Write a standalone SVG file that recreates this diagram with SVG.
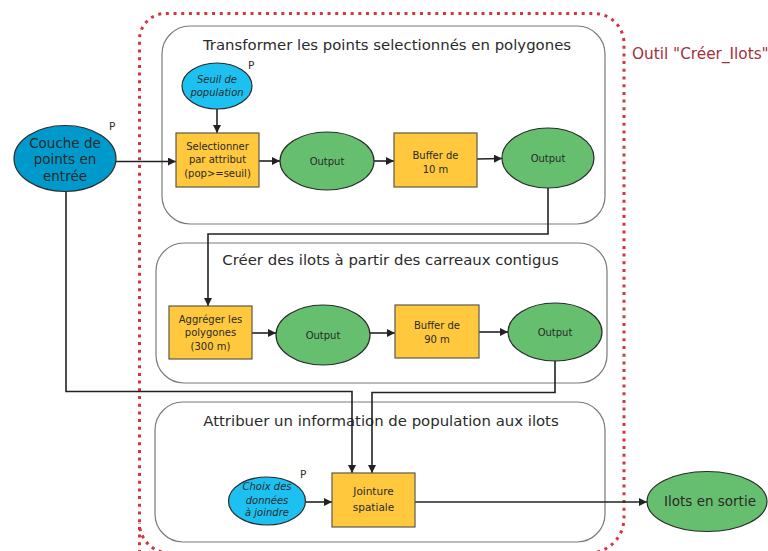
<svg xmlns="http://www.w3.org/2000/svg" width="768" height="551" viewBox="0 0 768 551">
<defs>
<marker id="arr" viewBox="0 0 10 10" refX="10" refY="5" markerWidth="9" markerHeight="8" markerUnits="userSpaceOnUse" orient="auto">
<path d="M0,0 L10,5 L0,10 z" fill="#222"/>
</marker>
<style>
text{font-family:"DejaVu Sans","Liberation Sans",sans-serif;fill:#2a2a2a;text-anchor:middle}
.grp{fill:none;stroke:#7a7a7a;stroke-width:1.2}
.title{font-size:14.9px}
.proc{fill:#FFC83D;stroke:#5a5a4a;stroke-width:1.2}
.out{fill:#66BF6E;stroke:#2a2a2a;stroke-width:1.2}
.inp{fill:#0099CC;stroke:#2a2a2a;stroke-width:1.2}
.par{fill:#1CC1F2;stroke:#2a2a2a;stroke-width:1.2}
.s{font-size:10px}
.it{font-size:10px;font-style:italic}
.big{font-size:13.5px}
.p{font-size:10.5px;text-anchor:start}
.conn{fill:none;stroke:#222;stroke-width:1.6;marker-end:url(#arr)}
</style>
</defs>
<rect width="768" height="551" fill="#fff"/>

<path id="outil-border" d="M139.5,553 L139.5,40 A26,26 0 0 1 165.5,13.5 L594,13.5 A30,30 0 0 1 624,43.5 L624,518 A35,35 0 0 1 589,553 L169.5,553 A30,30 0 0 1 139.5,523" fill="none" stroke="#D3363E" stroke-width="3" stroke-dasharray="3 4.7"/>
<text x="632" y="59" style="font-size:15.3px;text-anchor:start;fill:#A3303A">Outil "Créer_Ilots"</text>

<g id="groupe-transformer">
<rect class="grp" x="162" y="26" width="443" height="198" rx="28"/>
<text class="title" x="387" y="50">Transformer les points selectionnés en polygones</text>
</g>
<g id="groupe-creer">
<rect class="grp" x="156" y="243" width="451" height="140" rx="28"/>
<text class="title" x="390.5" y="265">Créer des ilots à partir des carreaux contigus</text>
</g>
<g id="groupe-attribuer">
<rect class="grp" x="155" y="402" width="450" height="140" rx="28"/>
<text class="title" x="381" y="426">Attribuer un information de population aux ilots</text>
</g>

<g id="connectors">
<line class="conn" x1="116" y1="161.5" x2="176" y2="161.5"/>
<line class="conn" x1="217" y1="109" x2="217" y2="133"/>
<line class="conn" x1="259" y1="161" x2="280" y2="161"/>
<line class="conn" x1="374" y1="161" x2="394" y2="161"/>
<line class="conn" x1="477" y1="159" x2="502" y2="158.5"/>
<polyline class="conn" points="548,188 548,234 208,234 208,306"/>
<line class="conn" x1="252" y1="333" x2="276" y2="333"/>
<line class="conn" x1="370" y1="333" x2="395" y2="333"/>
<line class="conn" x1="479" y1="332" x2="508" y2="332"/>
<polyline class="conn" points="555,361 555,392.5 372,392.5 372,473"/>
<polyline class="conn" points="66,192 66,391.5 352,391.5 352,473"/>
<line class="conn" x1="306" y1="502" x2="332" y2="502"/>
<line class="conn" x1="415" y1="502" x2="647" y2="502"/>
</g>

<g id="couche">
<ellipse class="inp" cx="65" cy="158.5" rx="51" ry="33"/>
<text class="big" x="65" y="147.5">Couche de</text>
<text class="big" x="65" y="164">points en</text>
<text class="big" x="65" y="180.5">entrée</text>
<text class="p" x="109" y="130">P</text>
</g>

<g id="seuil">
<ellipse class="par" cx="217" cy="86" rx="35" ry="23"/>
<text class="it" x="217" y="83">Seuil de</text>
<text class="it" x="217" y="96">population</text>
<text class="p" x="248" y="68.5">P</text>
</g>

<g id="selectionner">
<rect class="proc" x="176" y="133" width="83" height="54"/>
<text class="s" x="217.5" y="149.5">Selectionner</text>
<text class="s" x="217.5" y="163">par attribut</text>
<text class="s" x="217.5" y="176.5">(pop&gt;=seuil)</text>
</g>

<g id="output1">
<ellipse class="out" cx="327" cy="161" rx="47" ry="29"/>
<text class="s" x="327" y="164.5">Output</text>
</g>

<g id="buffer10">
<rect class="proc" x="394" y="133" width="83" height="54"/>
<text class="s" x="435.5" y="159">Buffer de</text>
<text class="s" x="435.5" y="172.5">10 m</text>
</g>

<g id="output2">
<ellipse class="out" cx="548" cy="158" rx="46" ry="30"/>
<text class="s" x="548" y="161.5">Output</text>
</g>

<g id="aggreger">
<rect class="proc" x="169" y="306" width="83" height="53"/>
<text class="s" x="210.5" y="322.5">Aggréger les</text>
<text class="s" x="210.5" y="336">polygones</text>
<text class="s" x="210.5" y="350">(300 m)</text>
</g>

<g id="output3">
<ellipse class="out" cx="323" cy="335" rx="47" ry="30"/>
<text class="s" x="323" y="338.5">Output</text>
</g>

<g id="buffer90">
<rect class="proc" x="395" y="305" width="84" height="53"/>
<text class="s" x="437" y="328.5">Buffer de</text>
<text class="s" x="437" y="342.5">90 m</text>
</g>

<g id="output4">
<ellipse class="out" cx="555" cy="332" rx="47" ry="29"/>
<text class="s" x="555" y="335.5">Output</text>
</g>

<g id="choix">
<ellipse class="par" cx="267" cy="501" rx="38.5" ry="24"/>
<text class="it" x="267" y="490">Choix des</text>
<text class="it" x="267" y="503.5">données</text>
<text class="it" x="267" y="516">à joindre</text>
<text class="p" x="300" y="478">P</text>
</g>

<g id="jointure">
<rect class="proc" x="332" y="473" width="83" height="54"/>
<text class="s" x="373.5" y="495" style="font-size:10.5px">Jointure</text>
<text class="s" x="373.5" y="510.5" style="font-size:10.5px">spatiale</text>
</g>

<g id="ilots">
<ellipse class="out" cx="707" cy="501.5" rx="60" ry="30"/>
<text class="big" x="710" y="506">Ilots en sortie</text>
</g>
</svg>
